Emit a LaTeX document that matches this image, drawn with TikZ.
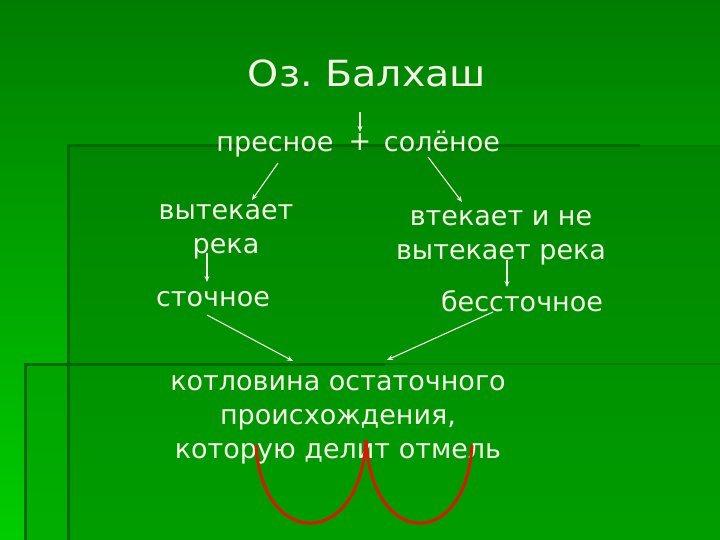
\documentclass[tikz,border=0pt]{standalone}
\usepackage{fontspec}
\setmainfont{DejaVu Sans}
\usetikzlibrary{arrows.meta}
\definecolor{bgtop}{RGB}{0,125,0}
\definecolor{bgbot}{RGB}{0,205,0}
\definecolor{panel}{RGB}{0,140,0}
\definecolor{panellow}{RGB}{0,165,0}
\definecolor{edge}{RGB}{0,105,0}
\definecolor{edgefaint}{RGB}{0,122,0}
\definecolor{chalk}{RGB}{245,248,230}
\definecolor{cut}{RGB}{225,20,0}
\tikzset{
  word/.style={text=chalk, inner sep=0pt, font=\fontsize{27}{34}\selectfont, align=center},
  arr/.style={draw=chalk, line width=1.1pt, -{Stealth[length=6pt,width=5pt]}}
}

\begin{document}
\frenchspacing
\begin{tikzpicture}[x=1pt,y=-1pt]
				  \useasboundingbox (0,0) rectangle (720,540);
				  \shade[top color=bgtop, bottom color=bgbot] (0,0) rectangle (720,540);
				  \shade[top color=panellow, bottom color=panellow!90!green] (25,364) rectangle (720,540);
				  \shade[top color=panel!95!black, bottom color=panel!85!green] (68,146) rectangle (720,540);
				  \draw[edge, line width=3pt] (68,540) -- (68,146) -- (640,146);
				  \draw[edgefaint, line width=2pt] (640,146) -- (720,146);
				  \draw[edge, line width=3pt] (25,540) -- (25,364) -- (385,364);
				  \draw[edgefaint, line width=2pt] (385,364) -- (720,364);
				  \node[word, font=\fontsize{36}{44}\selectfont, anchor=base] (lake) at (367,87) {\scalebox{1.1}[1]{Оз.~Балхаш}};
				  \node[word, anchor=base] (fresh) at (275,152) {пресное};
				  \node[word, anchor=base] (plus) at (360,151) {+};
				  \node[word, anchor=base] (salt) at (442,152) {солёное};
				  \node[word] (outriver) at (226,232) {вытекает\\река};
				  \node[word] (inriver) at (501,238) {втекает и не\\вытекает река};
				  \node[word, anchor=base] (drain) at (213,306) {сточное};
				  \node[word, anchor=base] (nodrain) at (522,311) {бессточное};
				  \node[word] (basin) at (338,420) {котловина остаточного\\происхождения,\\которую делит отмель};
				  \draw[arr] ([shift={(0,24)}]lake.south -| plus.north) -- ([shift={(0,-2)}]plus.north);
				  \draw[arr] ([shift={(3,11)}]fresh.base) -- ([shift={(26,-32)}]outriver.center);
				  \draw[arr] ([shift={(-14,5)}]salt.base) -- ([shift={(-39,-36)}]inriver.center);
				  \draw[arr] ([shift={(-19,21)}]outriver.center) -- ([shift={(-6,-24)}]drain.base);
				  \draw[arr] ([shift={(6,22)}]inriver.center) -- ([shift={(-15,-24)}]nodrain.base);
				  \draw[arr] ([shift={(-6,9)}]drain.base) -- ([shift={(-45,-59)}]basin.center);
				  \draw[arr] ([shift={(-29,1)}]nodrain.base) -- ([shift={(49,-60)}]basin.center);
				  \draw[cut, line width=3pt] (256,445) .. controls (262,550) and (360,550) .. (366,440);
				  \draw[cut, line width=3pt] (366,440) .. controls (372,550) and (466,550) .. (472,445);
				\end{tikzpicture}
\end{document}
